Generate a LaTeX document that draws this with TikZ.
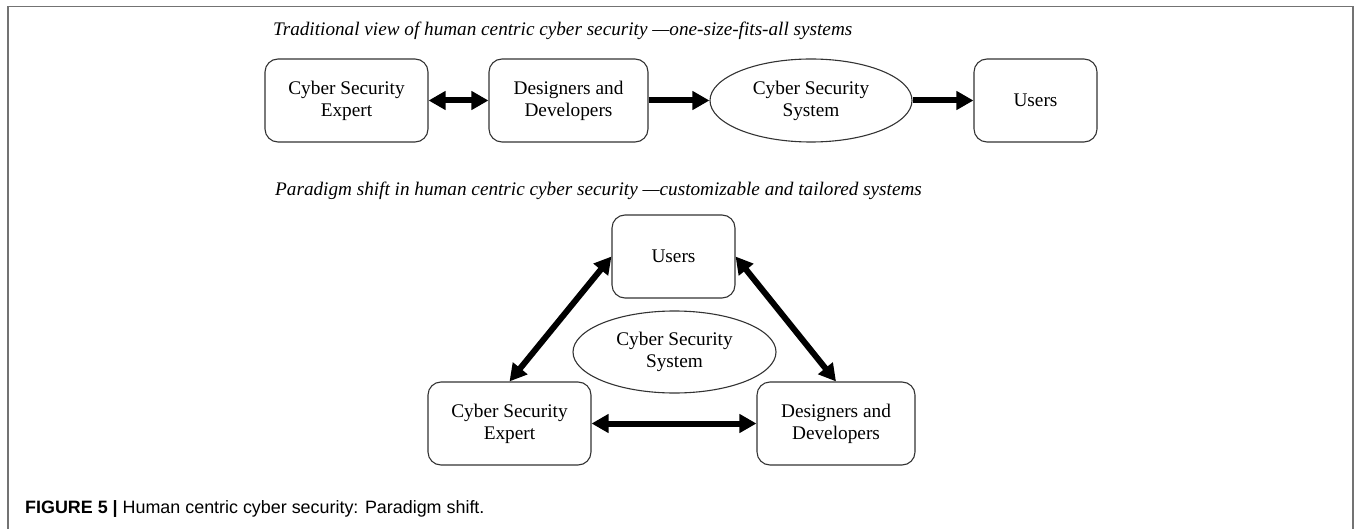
\documentclass[tikz,border=0pt]{standalone}
\usepackage{fontspec}
\setmainfont{Liberation Serif}
\newfontfamily\capfont{Liberation Sans}
\usetikzlibrary{arrows.meta,shapes.geometric}
\begin{document}
\begin{tikzpicture}[x=1pt,y=-1pt,
  block/.style={draw=black!80,line width=1.1pt,rounded corners=13pt,
    align=center,inner sep=0pt,minimum height=83pt,
    font=\fontsize{19.3}{22}\selectfont},
  oval/.style={draw=black!80,line width=1.1pt,ellipse,inner sep=0pt,
    align=center,minimum height=83pt,font=\fontsize{19.3}{22}\selectfont},
  heading/.style={anchor=base west,inner sep=0pt,
    font=\fontsize{19.2}{22}\selectfont\itshape},
  tip/.tip={Triangle[length=17pt,width=18pt]},
  flow/.style={line width=6pt,-tip},
  both/.style={line width=6pt,tip-tip}]
\useasboundingbox (0,0) rectangle (1356,529);
% open frame
\draw[gray!90!black,line width=1.4pt] (8,529) -- (8,6.5) -- (1353,6.5) -- (1353,529);

% one-size-fits-all chain
\node[heading] (t1) at (273,36) {Traditional view of human centric cyber security \textemdash one-size-fits-all systems};
\node[block,minimum width=163pt] (exp1) at (346.5,100.5) {Cyber Security\\Expert};
\node[block,minimum width=159pt] (dev1) at (568.5,100.5) {Designers and\\Developers};
\node[oval,minimum width=202pt] (sys1) at (811,100.5) {Cyber Security\\System};
\node[block,minimum width=123pt] (usr1) at (1035.5,100.5) {Users};
\draw[both] (exp1) -- (dev1);
\draw[flow] (dev1) -- (sys1);
\draw[flow] (sys1) -- (usr1);

% tailored triangle
\node[heading] (t2) at (275,196) {Paradigm shift in human centric cyber security \textemdash customizable and tailored systems};
\node[block,minimum width=123pt] (usr2) at (673.5,256.5) {Users};
\node[oval,minimum width=203pt,minimum height=82pt] (sys2) at (674.5,352) {Cyber Security\\System};
\node[block,minimum width=163pt] (exp2) at (509.5,423.5) {Cyber Security\\Expert};
\node[block,minimum width=158pt] (dev2) at (836,423.5) {Designers and\\Developers};
\draw[both] (usr2.west) -- (exp2.north);
\draw[both] (usr2.east) -- (dev2.north);
\draw[both] (exp2) -- (dev2);

% caption
\node[anchor=base west,inner sep=0pt,font=\capfont\fontsize{17.9}{22}\selectfont] (cap) at (25,513)
  {\textbf{FIGURE 5 |} Human centric cyber security: Paradigm shift.};
\end{tikzpicture}
\end{document}
